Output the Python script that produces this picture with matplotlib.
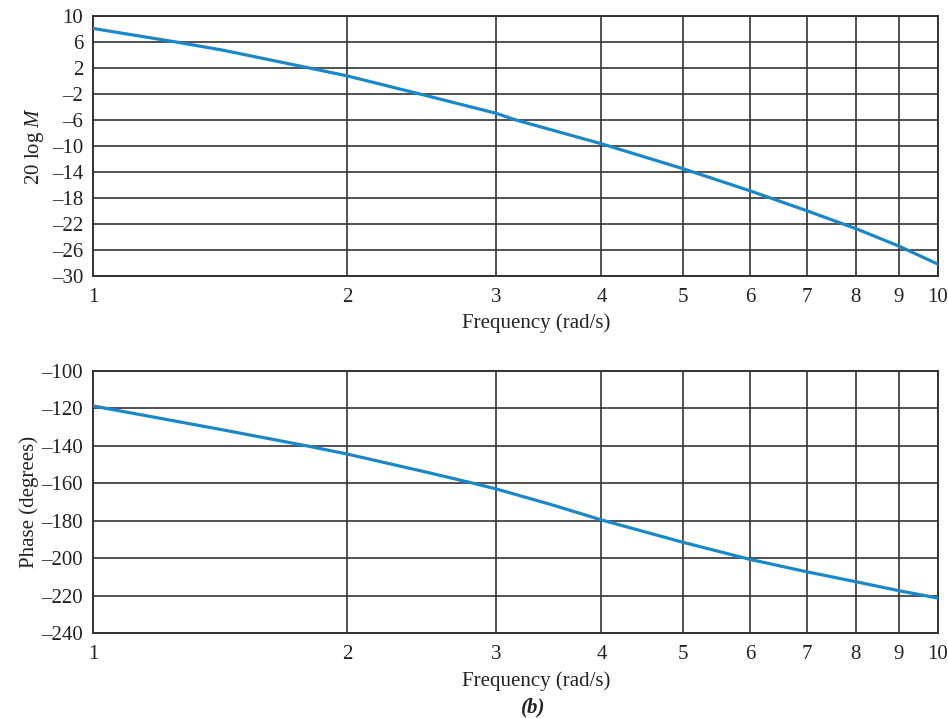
import numpy as np
import matplotlib
matplotlib.use('Agg')
from matplotlib import pyplot as plt
from matplotlib.ticker import NullLocator

plt.rcParams['font.family'] = ['Liberation Serif', 'DejaVu Serif']
plt.rcParams['mathtext.fontset'] = 'custom'
plt.rcParams['mathtext.rm'] = 'Liberation Serif'
plt.rcParams['mathtext.it'] = 'Liberation Serif:italic'

# ====== values
freq_mag = [1.0, 1.256, 1.426, 1.806, 2.0, 2.44, 3.0, 3.17, 4.0, 5.0, 6.0, 7.0, 8.0, 9.0, 10.0]
mag_db = [8.1, 6.0, 4.75, 2.0, 0.8, -2.0, -4.95, -6.0, -9.65, -13.5, -16.9, -19.95, -22.7, -25.4, -28.15]

freq_phase = [1.0, 1.426, 1.79, 2.0, 2.5, 2.82, 3.0, 3.5, 4.0, 5.0, 6.0, 7.0, 8.0, 9.0, 10.0]
phase_deg = [-118.7, -131.5, -140.0, -144.4, -154.4, -160.0, -163.0, -171.6, -179.6, -191.6, -200.7, -207.3, -212.6, -217.4, -221.3]

x_ticks = [1, 2, 3, 4, 5, 6, 7, 8, 9, 10]
mag_ticks = [10, 6, 2, -2, -6, -10, -14, -18, -22, -26, -30]
phase_ticks = [-100, -120, -140, -160, -180, -200, -220, -240]

line_color = '#1b87c9'
grid_color = '#333333'
text_color = '#222222'


def fmt(v):
    return str(v).replace('-', '\u2013')


def style_axes(ax, yticks):
    ax.set_xscale('log')
    ax.set_xlim(1, 10)
    ax.set_xticks(x_ticks)
    ax.set_xticklabels([str(t) for t in x_ticks])
    ax.xaxis.set_minor_locator(NullLocator())
    ax.set_yticks(yticks)
    ax.set_yticklabels([fmt(t) for t in yticks])
    ax.set_ylim(min(yticks), max(yticks))
    ax.grid(True, color=grid_color, linewidth=1.2)
    ax.tick_params(axis='x', pad=9)
    ax.tick_params(axis='y', pad=7)
    ax.tick_params(length=0, labelsize=15, colors=text_color)
    for sp in ax.spines.values():
        sp.set_color(grid_color)
        sp.set_linewidth(1.4)
    ax.set_xlabel('Frequency (rad/s)', fontsize=15, color=text_color)
    ax.xaxis.set_label_coords(0.525, -0.145)


fig = plt.figure(figsize=(9.48, 7.18), dpi=100)

ax1 = fig.add_axes([0.098, 0.6156, 0.891, 0.362])
ax1.plot(freq_mag, mag_db, color=line_color, linewidth=2.3, zorder=3)
style_axes(ax1, mag_ticks)
ax1.set_ylabel('20 log $\\mathit{M}$', fontsize=15, color=text_color, labelpad=4)

ax2 = fig.add_axes([0.098, 0.1184, 0.891, 0.365])
ax2.plot(freq_phase, phase_deg, color=line_color, linewidth=2.3, zorder=3)
style_axes(ax2, phase_ticks)
ax2.set_ylabel('Phase (degrees)', fontsize=15, color=text_color, labelpad=2)

fig.text(0.562, 0.015, '(b)', fontsize=15, fontweight='bold', style='italic',
         ha='center', va='center', color=text_color)

fig.savefig('out.png', dpi=100)
